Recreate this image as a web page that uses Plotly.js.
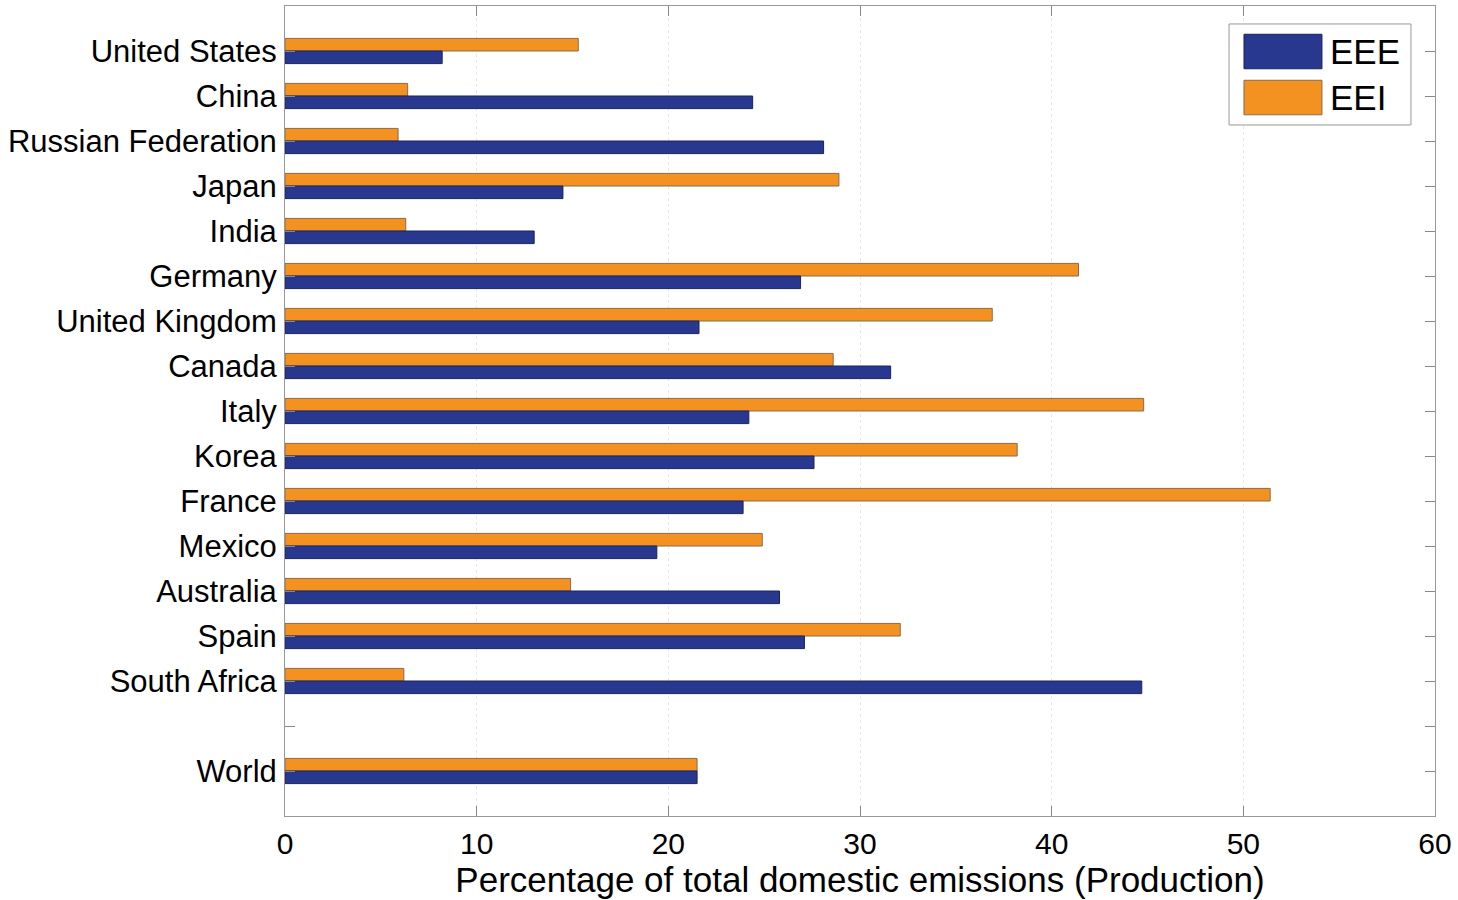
<!DOCTYPE html>
<html>
<head>
<meta charset="utf-8">
<script src="https://cdn.plot.ly/plotly-3.0.1.min.js"></script>
<style>
  html, body { margin: 0; padding: 0; background: #fff; }
  #chart { width: 1458px; height: 900px; }
</style>
</head>
<body>
<div id="chart"></div>
<script>
// Countries in display order; an empty slot separates the World total.
const countries = ["United States", "China", "Russian Federation", "Japan", "India",
  "Germany", "United Kingdom", "Canada", "Italy", "Korea", "France", "Mexico",
  "Australia", "Spain", "South Africa", "", "World"];

// Emissions embodied in exports (EEE) and imports (EEI), % of production emissions
const eee = [8.2, 24.4, 28.1, 14.5, 13.0, 26.9, 21.6, 31.6, 24.2, 27.6, 23.9, 19.4,
  25.8, 27.1, 44.7, null, 21.5];
const eei = [15.3, 6.4, 5.9, 28.9, 6.3, 41.4, 36.9, 28.6, 44.8, 38.2, 51.4, 24.9,
  14.9, 32.1, 6.2, null, 21.5];

const xTicks = [0, 10, 20, 30, 40, 50, 60];

const blue = "#27388e";
const orange = "#f39221";
const font = "Liberation Sans, Arial, Helvetica, sans-serif";

const pos = countries.map((_, i) => i + 1);

const traces = [
  { type: "bar", orientation: "h", name: "EEI", y: pos, x: eei,
    marker: { color: orange, line: { color: "#8a6a4a", width: 1 } },
    showlegend: false, hoverinfo: "x+name" },
  { type: "bar", orientation: "h", name: "EEE", y: pos, x: eee,
    marker: { color: blue, line: { color: "#1a2260", width: 1 } },
    showlegend: false, hoverinfo: "x+name" }
];

// Legend drawn as large swatches in the upper-right corner
const legendItems = [
  { name: "EEE", color: blue, line: "#1a2260" },
  { name: "EEI", color: orange, line: "#8a6a4a" }
];
const shapes = [
  { type: "rect", xref: "paper", yref: "paper", x0: 0.8209, x1: 0.9791, y0: 0.8531, y1: 0.9778,
    line: { color: "#999", width: 1 }, fillcolor: "#fff", layer: "above" }
];
const annotations = [];
legendItems.forEach((it, k) => {
  const yc = 0.9438 - k * 0.0568;
  shapes.push({ type: "rect", xref: "paper", yref: "paper",
    x0: 0.8339, x1: 0.9017, y0: yc - 0.0213, y1: yc + 0.0213,
    fillcolor: it.color, line: { color: it.line, width: 1 }, layer: "above" });
  annotations.push({ xref: "paper", yref: "paper", x: 0.9070, y: yc, xanchor: "left", yanchor: "middle",
    text: it.name, showarrow: false, font: { family: font, size: 35, color: "#000" } });
});

const layout = {
  width: 1458, height: 900,
  margin: { l: 285, r: 23, t: 6, b: 84 },
  paper_bgcolor: "#fff", plot_bgcolor: "#fff",
  barmode: "group", bargap: 0.44, bargroupgap: 0,
  font: { family: font, size: 31, color: "#000" },
  showlegend: false,
  xaxis: {
    range: [0, 60], tickvals: xTicks, ticktext: xTicks.map(String),
    ticks: "inside", ticklen: 10, tickcolor: "#888", tickwidth: 1,
    showline: true, linecolor: "#999", linewidth: 1, mirror: "ticks",
    showgrid: true, gridcolor: "#e8e8e8", griddash: "dot", gridwidth: 1,
    zeroline: false, ticklabelstandoff: 1,
    tickfont: { family: font, size: 30, color: "#000" },
    title: { text: "Percentage of total domestic emissions (Production)",
      font: { family: font, size: 35, color: "#000" }, standoff: 7 }
  },
  yaxis: {
    range: [18, 0], tickvals: pos, ticktext: countries,
    ticks: "inside", ticklen: 10, tickcolor: "#888", tickwidth: 1,
    showline: true, linecolor: "#999", linewidth: 1, mirror: "ticks",
    showgrid: false, zeroline: false, ticklabelstandoff: 1,
    tickfont: { family: font, size: 31, color: "#000" }
  },
  shapes: shapes,
  annotations: annotations
};

Plotly.newPlot("chart", traces, layout, { displayModeBar: false, staticPlot: true });
</script>
</body>
</html>
